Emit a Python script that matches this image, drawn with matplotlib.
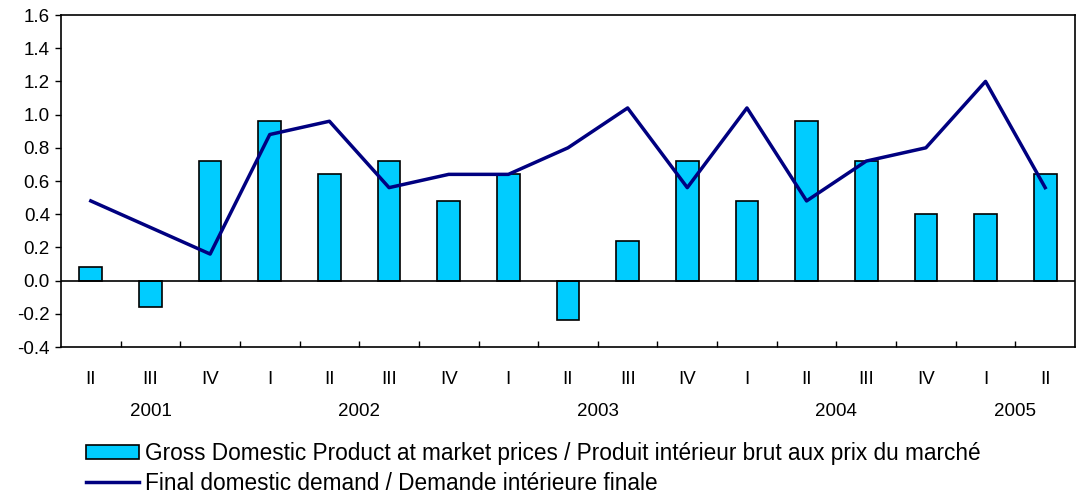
import numpy as np
import matplotlib.pyplot as plt
from matplotlib.patches import Patch
from matplotlib.lines import Line2D

plt.rcParams['font.family'] = ['Liberation Sans', 'DejaVu Sans']

quarters = ["II", "III", "IV", "I", "II", "III", "IV", "I", "II",
            "III", "IV", "I", "II", "III", "IV", "I", "II"]
years = ["2001", "2002", "2003", "2004", "2005"]
year_pos = [1, 4.5, 8.5, 12.5, 15.5]

gdp = [0.08, -0.16, 0.72, 0.96, 0.64, 0.72, 0.48, 0.64, -0.24,
       0.24, 0.72, 0.48, 0.96, 0.72, 0.40, 0.40, 0.64]
demand = [0.48, 0.32, 0.16, 0.88, 0.96, 0.56, 0.64, 0.64, 0.80,
          1.04, 0.56, 1.04, 0.48, 0.72, 0.80, 1.20, 0.56]

x = np.arange(len(quarters))

fig = plt.figure(figsize=(10.76, 4.97), dpi=100)
ax = fig.add_axes([61 / 1076, 1 - 347 / 497, 1014 / 1076, 332 / 497])

ax.bar(x, gdp, width=0.38, color="#00CCFF", edgecolor="black", linewidth=1.2, zorder=2)
ax.axhline(0, color="black", lw=1.2, zorder=3)
ax.plot(x, demand, color="#000080", lw=2.5, zorder=4)

ax.set_xlim(-0.5, len(quarters) - 0.5)
ax.set_ylim(-0.4, 1.6)
yt = np.arange(-0.4, 1.61, 0.2)
ax.set_yticks(yt)
ax.set_yticklabels([f"{v:.1f}" for v in yt], fontsize=13.5)

# quarter ticks sit between the bars, labels under the bars
ax.set_xticks(np.arange(0.5, len(quarters) - 0.5, 1))
ax.set_xticklabels([])
ax.set_xticks(x, minor=True)
ax.set_xticklabels(quarters, minor=True, fontsize=13.5)
ax.tick_params(axis="x", which="major", direction="in", length=4, width=1)
ax.tick_params(axis="x", which="minor", length=0, pad=17)
ax.tick_params(axis="y", direction="out", length=4, width=1, pad=4)

for sp in ax.spines.values():
    sp.set_linewidth(1.2)

for pos, yr in zip(year_pos, years):
    ax.text(pos, -0.79, yr, ha="center", va="center", fontsize=13.5)

handles = [Patch(facecolor="#00CCFF", edgecolor="black", linewidth=1.2),
           Line2D([], [], color="#000080", lw=2.5)]
labels = ["Gross Domestic Product at market prices / Produit intérieur brut aux prix du marché",
          "Final domestic demand / Demande intérieure finale"]
fig.legend(handles, labels, loc="upper left", bbox_to_anchor=(77 / 1076, 1 - 433 / 497),
           frameon=False, fontsize=16.3, handlelength=2.35, handleheight=0.6,
           handletextpad=0.25, labelspacing=0.3, borderaxespad=0)

fig.savefig("out.png", dpi=100)
